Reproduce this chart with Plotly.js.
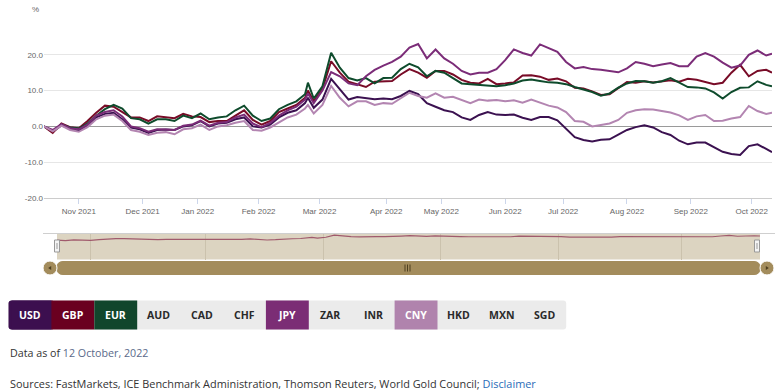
<!DOCTYPE html>
<html><head><meta charset="utf-8">
<script src="https://cdn.plot.ly/plotly-3.0.1.min.js"></script>
<style>html,body{margin:0;padding:0;background:#fff;}#chart{width:780px;height:391px;}</style>
</head><body><div id="chart"></div>
<script>
// trading-day index (Oct 2021 - 12 Oct 2022)
const day = [0,3,6,9,12,15,18,21,24,27,30,33,36,39,42,45,48,51,54,57,60,63,66,69,72,75,78,81,84,87,90,91,93,96,99,102,105,108,111,114,117,120,123,126,129,132,135,138,141,144,147,150,153,156,159,162,165,168,171,174,177,180,183,186,189,192,195,198,201,204,207,210,213,216,219,222,225,228,231,234,237,240,243,246,249,251];

const usd = [0,-1.5,0.3,-0.6,-1.2,0.3,2.5,3.5,3.8,2.0,-0.3,-0.8,-1.8,-1.0,-0.9,-1.0,0.0,0.3,1.5,0.0,0.8,1.0,2.0,2.5,0.0,-0.3,0.5,2.5,3.8,4.5,6.5,8.0,5.2,7.5,13.3,10.3,7.5,8.2,8.0,7.6,7.8,7.6,8.5,9.9,9.0,6.5,5.5,4.5,4.0,2.5,1.8,3.2,4.0,3.3,3.2,3.3,2.4,1.8,2.6,2.6,1.7,-0.8,-3.0,-3.8,-4.2,-3.7,-3.6,-2.3,-1.0,-0.2,0.3,-0.3,-1.6,-2.4,-4.0,-5.0,-4.5,-4.5,-5.8,-7.1,-7.7,-8.0,-5.5,-5.0,-6.3,-7.2];
const gbp = [0,-1.8,0.8,-0.2,-0.5,1.5,3.8,5.8,5.5,4.0,2.5,2.5,1.5,2.8,2.6,2.3,3.5,2.8,2.6,1.2,1.5,1.5,3.0,4.5,1.8,0.5,1.5,4.0,5.0,6.0,8.0,10.0,7.0,10.5,18.2,15.0,12.5,11.8,11.0,12.5,12.5,12.7,14.5,16.0,15.0,13.6,15.5,15.5,14.5,13.0,12.2,12.0,13.3,11.8,12.0,12.3,14.2,14.3,13.9,13.0,13.4,12.6,10.8,10.6,9.8,8.8,9.0,10.8,12.4,12.2,12.6,12.3,12.5,12.9,12.5,13.3,13.0,12.5,11.8,12.2,15.0,17.2,14.0,15.5,15.8,15.0];
const eur = [0,-1.2,0.5,-0.3,-0.6,0.8,3.0,4.8,6.0,5.0,2.3,2.0,0.8,2.0,2.0,1.5,3.0,2.3,3.6,2.0,2.5,2.8,4.5,5.8,3.0,1.5,2.2,4.8,6.0,7.0,9.0,12.2,7.8,11.2,20.6,16.4,13.5,12.8,13.5,12.0,13.5,13.6,16.0,17.5,16.5,14.0,15.5,15.0,13.5,12.0,11.8,11.6,11.5,11.2,11.5,12.0,12.8,13.1,12.7,12.3,12.2,11.8,11.0,10.4,9.6,8.6,9.2,10.8,12.0,12.7,12.6,12.2,12.6,13.5,12.3,11.0,10.9,10.6,9.5,7.8,9.6,10.8,10.9,12.6,11.6,11.2];
const jpy = [0,-1.0,0.6,-0.5,-0.8,0.5,3.0,4.0,4.5,2.8,0.0,-0.5,-1.5,-0.8,-0.9,-1.0,0.2,0.5,1.6,0.2,1.0,1.2,2.5,3.3,0.8,-0.2,1.0,3.0,4.5,5.5,7.5,9.2,6.5,10.0,15.2,14.0,12.0,11.5,14.0,15.8,17.0,18.0,19.5,22.0,23.0,19.0,21.5,19.0,17.5,15.5,14.5,15.0,15.0,16.0,18.5,21.5,20.5,19.8,22.9,21.8,20.8,18.0,16.2,16.6,16.0,15.8,15.5,15.1,16.2,18.0,17.5,16.8,17.3,17.7,16.8,16.8,19.5,20.5,19.5,17.8,16.4,17.0,20.0,21.2,19.8,20.3];
const cny = [0,-1.4,0.2,-1.0,-1.5,-0.2,2.0,3.0,3.3,1.5,-1.0,-1.5,-2.4,-1.8,-1.6,-2.2,-0.8,-0.5,0.5,-1.0,0.0,0.3,1.0,1.5,-1.0,-1.2,-0.3,1.2,2.5,3.3,5.0,6.0,3.6,6.0,11.3,8.0,5.6,7.0,7.0,6.0,6.5,6.3,7.8,9.4,8.5,8.0,9.2,8.0,8.3,7.4,6.5,7.5,7.2,7.4,7.0,7.3,6.6,7.5,6.6,5.8,5.3,4.0,1.5,1.3,0.0,0.4,0.8,1.8,3.8,4.5,4.8,4.7,4.3,3.9,3.1,1.8,2.8,3.2,1.5,1.6,2.2,2.6,5.7,4.3,3.5,3.8];

const monthTickDays = [12,34,53,74,95,118,137,159,179,201,223,244];
const monthTickLabels = ['Nov 2021','Dec 2021','Jan 2022','Feb 2022','Mar 2022','Apr 2022','May 2022','Jun 2022','Jul 2022','Aug 2022','Sep 2022','Oct 2022'];
const yTickVals = [-20,-10,0,10,20,30];
const yTickText = ['-20.0','-10.0','0.0','10.0','20.0',''];

const currencies = ['USD','GBP','EUR','AUD','CAD','CHF','JPY','ZAR','INR','CNY','HKD','MXN','SGD'];
const seriesNames = ['USD','GBP','EUR','JPY','CNY'];
const seriesData = [usd,gbp,eur,jpy,cny];
const seriesColors = ['#3b1150','#780b27','#0e4b2c','#7b2c78','#b385b1'];
const buttonColors = {USD:'#3c0f4f',GBP:'#6a0020',EUR:'#11462c',JPY:'#7b2d75',CNY:'#b083ad'};

const W=780,H=391;
const X=p=>p/W, Y=p=>1-p/H;
const axisFont={family:'Liberation Sans, Arial, sans-serif',size:8,color:'#666666'};

const traces = seriesNames.map((n,i)=>({
  type:'scatter',mode:'lines',name:n,x:day,y:seriesData[i],
  line:{color:seriesColors[i],width:2},xaxis:'x',yaxis:'y',hoverinfo:'skip'
}));
traces.push({type:'scatter',mode:'lines',x:day,y:gbp,line:{color:'#a05a6c',width:1.2},xaxis:'x2',yaxis:'y2',hoverinfo:'skip'});

const shapes=[];
const annotations=[];
// navigator
shapes.push({type:'rect',xref:'paper',yref:'paper',x0:X(57),x1:X(760),y0:Y(259.5),y1:Y(233.5),fillcolor:'#dcd4c1',line:{width:0},layer:'below'});
shapes.push({type:'line',xref:'paper',yref:'paper',x0:X(43),x1:X(775),y0:Y(233.5),y1:Y(233.5),line:{color:'#cfcfcf',width:1}});
[57,757].forEach(h=>{
  shapes.push({type:'rect',xref:'paper',yref:'paper',x0:X(h-2.5),x1:X(h+2.5),y0:Y(252),y1:Y(240),fillcolor:'#f4f4f4',line:{color:'#999',width:1}});
  shapes.push({type:'line',xref:'paper',yref:'paper',x0:X(h),x1:X(h),y0:Y(249),y1:Y(243),line:{color:'#999',width:1}});
});
// scrollbar
function rrect(x0,y0,x1,y1,r){
  const a=(x,y)=>X(x)+','+Y(y);
  return 'M'+a(x0+r,y0)+' L'+a(x1-r,y0)+' Q'+a(x1,y0)+' '+a(x1,y0+r)+' L'+a(x1,y1-r)+' Q'+a(x1,y1)+' '+a(x1-r,y1)+' L'+a(x0+r,y1)+' Q'+a(x0,y1)+' '+a(x0,y1-r)+' L'+a(x0,y0+r)+' Q'+a(x0,y0)+' '+a(x0+r,y0)+' Z';
}
shapes.push({type:'path',xref:'paper',yref:'paper',path:rrect(57,261.5,760,274.5,6),fillcolor:'#a38c5c',line:{color:'#a38c5c',width:1}});
[[50,-1],[767,1]].forEach(([c,d])=>{
  shapes.push({type:'circle',xref:'paper',yref:'paper',x0:X(c-7),x1:X(c+7),y0:Y(275),y1:Y(261),fillcolor:'#a38c5c',line:{color:'#ffffff',width:1}});
  const tip=c+d*1.8, base=c-d*1.2;
  shapes.push({type:'path',xref:'paper',yref:'paper',path:'M'+X(base)+','+Y(266)+' L'+X(tip)+','+Y(268)+' L'+X(base)+','+Y(270)+' Z',fillcolor:'#4e3f1f',line:{width:0}});
});
[405,407.5,410].forEach(g=>shapes.push({type:'line',xref:'paper',yref:'paper',x0:X(g),x1:X(g),y0:Y(264.5),y1:Y(271.5),line:{color:'#4e3f1f',width:1}}));

// currency buttons
const bx0=8.5,bw=42.9,by0=300.5,by1=329.5;
shapes.push({type:'path',xref:'paper',yref:'paper',path:rrect(bx0,by0,bx0+bw*currencies.length,by1,3),fillcolor:'#ebebeb',line:{width:0}});
currencies.forEach((c,i)=>{
  const x0=bx0+i*bw,x1=x0+bw;
  const col=buttonColors[c];
  if(col){
    if(i===0) shapes.push({type:'path',xref:'paper',yref:'paper',path:rrect(x0,by0,x1+3,by1,3),fillcolor:col,line:{width:0}});
    shapes.push({type:'rect',xref:'paper',yref:'paper',x0:X(i===0?x0+3:x0),x1:X(x1),y0:Y(by1),y1:Y(by0),fillcolor:col,line:{width:0}});
  }
  annotations.push({xref:'paper',yref:'paper',x:X((x0+x1)/2),y:Y((by0+by1)/2),text:c,showarrow:false,xanchor:'center',yanchor:'middle',
    font:{family:'Open Sans, sans-serif',size:10.5,weight:700,color:col?'#ffffff':'#2a2a2a'}});
});

annotations.push({xref:'paper',yref:'paper',x:X(41),y:Y(10),text:'%',showarrow:false,xanchor:'right',yanchor:'middle',font:axisFont});
annotations.push({xref:'paper',yref:'paper',x:X(8),y:Y(353),text:'Data as of <span style="color:#5a6a8a">12 October, 2022</span>',showarrow:false,xanchor:'left',yanchor:'middle',font:{family:'Open Sans, sans-serif',size:10.7,color:'#333333'}});
annotations.push({xref:'paper',yref:'paper',x:X(8),y:Y(383),text:'Sources: FastMarkets, ICE Benchmark Administration, Thomson Reuters, World Gold Council; <span style="color:#2a6cb8">Disclaimer</span>',showarrow:false,xanchor:'left',yanchor:'middle',font:{family:'Open Sans, sans-serif',size:10.9,color:'#333333'}});

const navTicks = monthTickDays.filter((d,i)=>i%2===0);

const layout={
  width:W,height:H,margin:{l:0,r:0,t:0,b:0},paper_bgcolor:'#ffffff',plot_bgcolor:'rgba(0,0,0,0)',showlegend:false,
  xaxis:{domain:[X(44),X(772)],range:[0,251],anchor:'y',tickvals:monthTickDays,ticktext:monthTickLabels,ticks:'outside',ticklen:5,tickcolor:'#ccd6eb',
    showgrid:false,zeroline:false,showline:true,linecolor:'#cccccc',linewidth:1,tickfont:axisFont,fixedrange:true},
  yaxis:{domain:[Y(198),Y(19)],range:[-20,30],anchor:'x',tickvals:yTickVals,ticktext:yTickText,gridcolor:'#e6e6e6',gridwidth:1,
    zeroline:true,zerolinecolor:'#9a9a9a',zerolinewidth:1.5,showline:false,ticks:'',tickfont:axisFont,fixedrange:true},
  xaxis2:{domain:[X(57),X(760)],range:[0,251],anchor:'y2',tickvals:navTicks,showticklabels:false,ticks:'',showgrid:true,gridcolor:'#cbc2ad',zeroline:false,showline:false,fixedrange:true},
  yaxis2:{domain:[Y(259.5),Y(233.5)],range:[-70,24],anchor:'x2',visible:false,fixedrange:true},
  shapes:shapes,annotations:annotations
};
Plotly.newPlot('chart',traces,layout,{staticPlot:true,displayModeBar:false});
</script></body></html>
